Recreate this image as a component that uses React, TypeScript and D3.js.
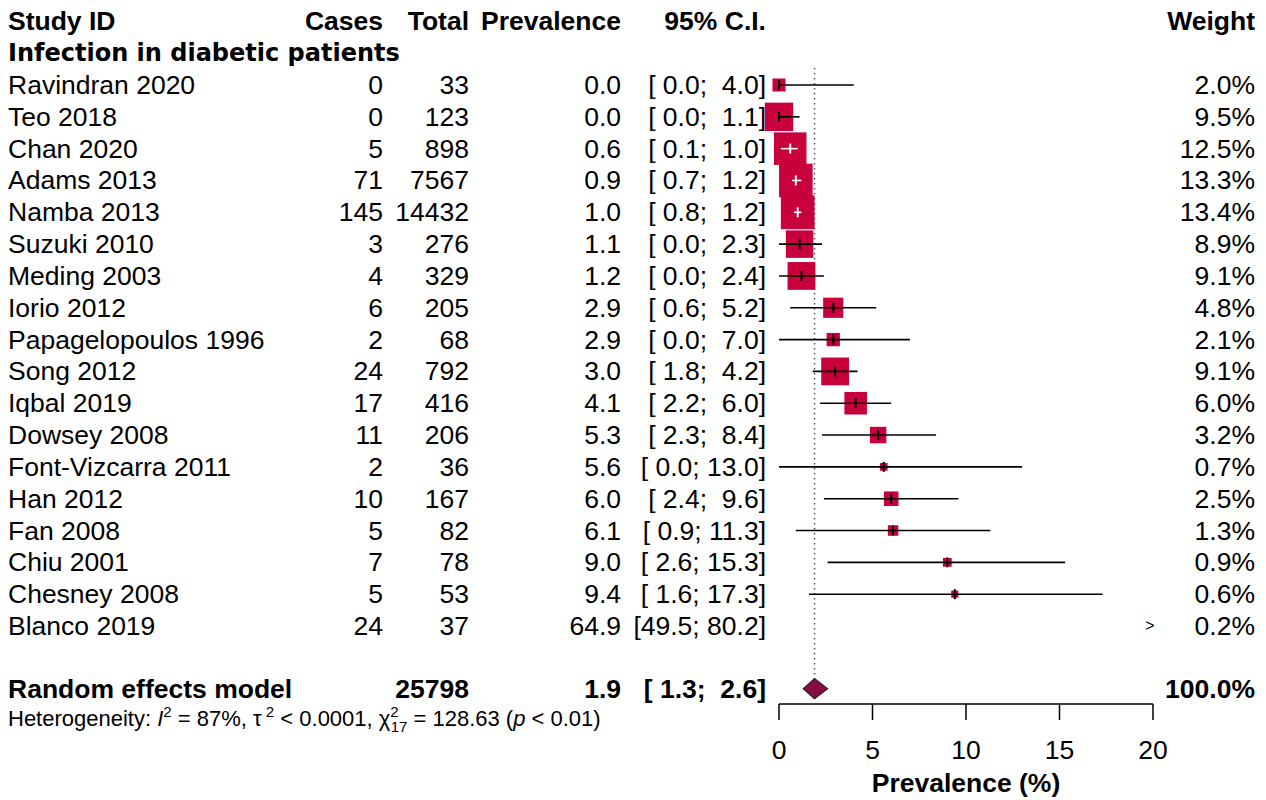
import React from "react";
import * as d3 from "d3";

const studies = ["Ravindran 2020","Teo 2018","Chan 2020","Adams 2013","Namba 2013","Suzuki 2010","Meding 2003","Iorio 2012","Papagelopoulos 1996","Song 2012","Iqbal 2019","Dowsey 2008","Font-Vizcarra 2011","Han 2012","Fan 2008","Chiu 2001","Chesney 2008","Blanco 2019"];
const cases = [0,0,5,71,145,3,4,6,2,24,17,11,2,10,5,7,5,24];
const totals = [33,123,898,7567,14432,276,329,205,68,792,416,206,36,167,82,78,53,37];
const prevalence = [0.0,0.0,0.6,0.9,1.0,1.1,1.2,2.9,2.9,3.0,4.1,5.3,5.6,6.0,6.1,9.0,9.4,64.9];
const lower = [0.0,0.0,0.1,0.7,0.8,0.0,0.0,0.6,0.0,1.8,2.2,2.3,0.0,2.4,0.9,2.6,1.6,49.5];
const upper = [4.0,1.1,1.0,1.2,1.2,2.3,2.4,5.2,7.0,4.2,6.0,8.4,13.0,9.6,11.3,15.3,17.3,80.2];
const weights = [2.0,9.5,12.5,13.3,13.4,8.9,9.1,4.8,2.1,9.1,6.0,3.2,0.7,2.5,1.3,0.9,0.6,0.2];

const pooledTotal = 25798;
const pooledEst = 1.9;
const pooledLower = 1.3;
const pooledUpper = 2.6;
const axisTicks = [0, 5, 10, 15, 20];

const FONT = "'Liberation Sans', Arial, Helvetica, sans-serif";
const SQ = "#C8003C";
const DIA = "#8B0B3F";

function fmtCI(l: number, u: number) {
  const pad = (v: number) => {
    const s = v.toFixed(1);
    return s.length < 4 ? " ".repeat(4 - s.length) + s : s;
  };
  return `[${pad(l)}; ${pad(u)}]`;
}

export default function App() {
  const x = d3.scaleLinear().domain([0, 20]).range([779, 1153]);
  const y = d3.scaleLinear().domain([0, 17]).range([85, 626]);
  const size = d3.scaleSqrt().domain([0, d3.max(weights) as number]).range([0, 33.7]);
  const fs = 26.5;
  const pooledY = y(19) - 1;
  const colCases = 383, colTotal = 469, colPrev = 621, colCI = 766, colW = 1255;

  return (
    <div style={{ position: "absolute", left: 0, top: 0 }}>
      <svg width={1266} height={800} style={{ display: "block", background: "#fff" }} fontFamily={FONT}>
        {/* header */}
        <g fontSize={fs} fontWeight="bold" fill="#000">
          <text x={8} y={30}>Study ID</text>
          <text x={colCases} y={30} textAnchor="end">Cases</text>
          <text x={colTotal} y={30} textAnchor="end">Total</text>
          <text x={colPrev} y={30} textAnchor="end">Prevalence</text>
          <text x={colCI} y={30} textAnchor="end">95% C.I.</text>
          <text x={colW} y={30} textAnchor="end">Weight</text>
        </g>
        <text x={8} y={61} fontSize={24} fontWeight="bold" fontFamily="'DejaVu Sans', sans-serif">Infection in diabetic patients</text>

        {/* reference line */}
        <line x1={x(pooledEst)} x2={x(pooledEst)} y1={y(0) - 17} y2={pooledY - 10} stroke="#555" strokeWidth={1.5} strokeDasharray="1.5,3.5" />

        {/* rows */}
        {studies.map((s, i) => {
          const cy = y(i);
          const by = cy + 9;
          const side = size(weights[i]);
          const cx = x(prevalence[i]);
          const inRange = prevalence[i] <= 20;
          const l = Math.max(0, lower[i]);
          const u = Math.min(20, upper[i]);
          const boxL = cx - side / 2, boxR = cx + side / 2;
          const lineInside = x(l) >= boxL && x(u) <= boxR;
          const lc = lineInside ? "#fff" : "#000";
          return (
            <g key={s}>
              <g fontSize={fs} fill="#000" style={{ whiteSpace: "pre" }}>
                <text x={8} y={by}>{s}</text>
                <text x={colCases} y={by} textAnchor="end">{cases[i]}</text>
                <text x={colTotal} y={by} textAnchor="end">{totals[i]}</text>
                <text x={colPrev} y={by} textAnchor="end">{prevalence[i].toFixed(1)}</text>
                <text x={colCI} y={by} textAnchor="end" xmlSpace="preserve">{fmtCI(lower[i], upper[i])}</text>
                <text x={colW} y={by} textAnchor="end">{weights[i].toFixed(1) + "%"}</text>
              </g>
              {inRange && (
                <g>
                  <rect x={cx - side / 2} y={cy - side / 2} width={side} height={side} fill={SQ} />
                  {lower[i] < 20 && (
                    <line x1={x(l)} x2={x(u)} y1={cy} y2={cy} stroke={lc} strokeWidth={1.6} />
                  )}
                  <line x1={cx} x2={cx} y1={cy - 5} y2={cy + 5} stroke={lc} strokeWidth={2} />
                </g>
              )}
              {!inRange && (
                <text x={1150} y={cy + 5} fontSize={16} textAnchor="middle">&gt;</text>
              )}
            </g>
          );
        })}

        {/* pooled */}
        <g fontSize={fs} fontWeight="bold" fill="#000" style={{ whiteSpace: "pre" }}>
          <text x={8} y={pooledY + 9}>Random effects model</text>
          <text x={colTotal} y={pooledY + 9} textAnchor="end">{pooledTotal}</text>
          <text x={colPrev} y={pooledY + 9} textAnchor="end">{pooledEst.toFixed(1)}</text>
          <text x={colCI} y={pooledY + 9} textAnchor="end" xmlSpace="preserve">{fmtCI(pooledLower, pooledUpper)}</text>
          <text x={colW} y={pooledY + 9} textAnchor="end">100.0%</text>
        </g>
        <polygon
          points={[
            [x(pooledLower), pooledY],
            [x(pooledEst), pooledY - 10],
            [x(pooledUpper), pooledY],
            [x(pooledEst), pooledY + 10],
          ].map((p) => p.join(",")).join(" ")}
          fill={DIA}
          stroke="#222"
          strokeWidth={1.2}
        />
        <text x={8} y={726} fontSize={22} fill="#000" xmlSpace="preserve">
          Heterogeneity: <tspan fontStyle="italic">I</tspan>
          <tspan dy={-9} fontSize={15}>2</tspan>
          <tspan dy={9}> = 87%, τ</tspan>
          <tspan dy={-9} fontSize={15}> 2</tspan>
          <tspan dy={9}> &lt; 0.0001, χ</tspan>
          <tspan dy={-9} fontSize={15}>2</tspan>
          <tspan dx={-8} dy={15} fontSize={15}>17</tspan>
          <tspan dy={-6}> = 128.63 (</tspan>
          <tspan fontStyle="italic">p</tspan>
          <tspan> &lt; 0.01)</tspan>
        </text>

        {/* axis */}
        <line x1={x(0)} x2={x(20)} y1={704} y2={704} stroke="#000" strokeWidth={1.5} />
        {axisTicks.map((t) => (
          <g key={t}>
            <line x1={x(t)} x2={x(t)} y1={704} y2={720} stroke="#000" strokeWidth={1.5} />
            <text x={x(t)} y={759} fontSize={fs} textAnchor="middle">{t}</text>
          </g>
        ))}
        <text x={x(10)} y={792} fontSize={fs} fontWeight="bold" textAnchor="middle">Prevalence (%)</text>
      </svg>
    </div>
  );
}
